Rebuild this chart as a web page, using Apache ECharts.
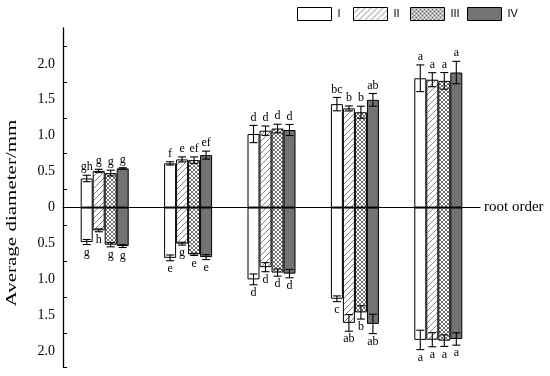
<!DOCTYPE html>
<html>
<head>
<meta charset="utf-8">
<script src="https://cdn.jsdelivr.net/npm/echarts@6/dist/echarts.min.js"></script>
<style>html,body{margin:0;padding:0;background:#fff}#c{width:550px;height:376px}</style>
</head>
<body>
<div id="c"></div>
<script>
// ---------- DATA ----------
const categories = ['1', '2', '3', '4', '5'];
const treatments = ['I', 'II', 'III', 'IV'];
const yLabelValues = [-2, -1.5, -1, -0.5, 0, 0.5, 1, 1.5, 2];
const yTickValues = [-2.22, -1.75, -1.25, -0.75, -0.25, 0.25, 0.75, 1.25, 1.75, 2.25];

const upI = [0.405, 0.615, 1.024, 1.44, 1.80];
const upErrI = [0.045, 0.023, 0.12, 0.093, 0.186];
const downI = [-0.48, -0.70, -1.00, -1.27, -1.843];
const downErrI = [0.035, 0.04, 0.075, 0.04, 0.135];
const upLblI = ['gh', 'f', 'd', 'bc', 'a'];
const downLblI = ['g', 'e', 'd', 'c', 'a'];

const upII = [0.51, 0.67, 1.07, 1.38, 1.78];
const upErrII = [0.023, 0.035, 0.065, 0.035, 0.098];
const downII = [-0.317, -0.503, -0.83, -1.606, -1.84];
const downErrII = [0.02, 0.02, 0.063, 0.116, 0.098];
const upLblII = ['g', 'e', 'd', 'b', 'a'];
const downLblII = ['h', 'g', 'd', 'ab', 'a'];

const upIII = [0.48, 0.66, 1.10, 1.327, 1.764];
const upErrIII = [0.04, 0.045, 0.06, 0.084, 0.116];
const downIII = [-0.517, -0.652, -0.905, -1.46, -1.853];
const downErrIII = [0.03, 0.015, 0.05, 0.093, 0.08];
const upLblIII = ['g', 'ef', 'd', 'b', 'a'];
const downLblIII = ['g', 'e', 'd', 'b', 'a'];

const upIV = [0.545, 0.73, 1.08, 1.50, 1.88];
const upErrIV = [0.01, 0.055, 0.077, 0.088, 0.156];
const downIV = [-0.536, -0.69, -0.92, -1.62, -1.83];
const downErrIV = [0.02, 0.035, 0.058, 0.135, 0.086];
const upLblIV = ['g', 'ef', 'd', 'ab', 'a'];
const downLblIV = ['g', 'e', 'd', 'ab', 'a'];

// ---------- STYLE ----------
const SERIF = '"Liberation Serif", "Times New Roman", serif';
const BAR_W = 12;

function pattern(kind) {
  const c = document.createElement('canvas');
  const n = kind === 'cross' ? 4 : 6;
  c.width = n; c.height = n;
  const g = c.getContext('2d');
  g.fillStyle = '#fff'; g.fillRect(0, 0, n, n);
  g.lineWidth = kind === 'cross' ? 0.7 : 0.9;
  g.strokeStyle = kind === 'cross' ? '#333' : '#777';
  g.beginPath();
  g.moveTo(-1, n + 1); g.lineTo(n + 1, -1);
  g.moveTo(-1, 1); g.lineTo(1, -1);
  g.moveTo(n - 1, n + 1); g.lineTo(n + 1, n - 1);
  if (kind === 'cross') {
    g.moveTo(-1, -1); g.lineTo(n + 1, n + 1);
    g.moveTo(n - 1, -1); g.lineTo(n + 1, 1);
    g.moveTo(-1, n - 1); g.lineTo(1, n + 1);
  }
  g.stroke();
  return { image: c, repeat: 'repeat' };
}

const fills = ['#ffffff', pattern('diag'), pattern('cross'), '#737373'];
const sets = [
  [upI, upErrI, downI, downErrI, upLblI, downLblI],
  [upII, upErrII, downII, downErrII, upLblII, downLblII],
  [upIII, upErrIII, downIII, downErrIII, upLblIII, downLblIII],
  [upIV, upErrIV, downIV, downErrIV, upLblIV, downLblIV]
];

const series = [];
treatments.forEach((t, s) => {
  const [up, upErr, down, downErr] = sets[s];
  const itemStyle = { color: fills[s], borderColor: '#000', borderWidth: 1, borderRadius: 0 };
  series.push({ name: t, type: 'bar', stack: 'st' + s, data: up, barWidth: BAR_W, barGap: '0%', itemStyle, emphasis: { disabled: true }, silent: true });
  series.push({ name: t, type: 'bar', stack: 'st' + s, data: down, barWidth: BAR_W, barGap: '0%', itemStyle, emphasis: { disabled: true }, silent: true });
});

treatments.forEach((t, s) => {
  const [up, upErr, down, downErr, upLbl, downLbl] = sets[s];
  series.push({
    name: 'err' + t,
    type: 'custom',
    z: 5,
    silent: true,
    data: categories.map((c, i) => [i, up[i]]),
    renderItem: function (params, api) {
      const i = params.dataIndex;
      const cx = api.coord([i, 0])[0] + (s - 1.5) * BAR_W;
      const cap = 4;
      const yUpT = api.coord([i, up[i] + upErr[i]])[1];
      const yUpB = api.coord([i, up[i] - upErr[i]])[1];
      const yDnT = api.coord([i, down[i] + downErr[i]])[1];
      const yDnB = api.coord([i, down[i] - downErr[i]])[1];
      const ls = { stroke: '#000', lineWidth: 1.1 };
      const line = (x1, y1, x2, y2) => ({ type: 'line', shape: { x1, y1, x2, y2 }, style: ls });
      return {
        type: 'group',
        children: [
          line(cx, yUpT, cx, yUpB), line(cx - cap, yUpT, cx + cap, yUpT), line(cx - cap, yUpB, cx + cap, yUpB),
          line(cx, yDnT, cx, yDnB), line(cx - cap, yDnT, cx + cap, yDnT), line(cx - cap, yDnB, cx + cap, yDnB),
          { type: 'text', x: cx, y: yUpT - 2, style: { text: upLbl[i], font: '12px ' + SERIF, fill: '#000', textAlign: 'center', textVerticalAlign: 'bottom', align: 'center', verticalAlign: 'bottom' } },
          { type: 'text', x: cx, y: yDnB + 2, style: { text: downLbl[i], font: '12px ' + SERIF, fill: '#000', textAlign: 'center', textVerticalAlign: 'top', align: 'center', verticalAlign: 'top' } }
        ]
      };
    }
  });
});

const legendLefts = [297, 353, 410, 467];
const legends = treatments.map((t, s) => ({
  data: [{ name: t, icon: 'rect' }], icon: 'rect', left: legendLefts[s], top: 7, padding: 0,
  itemWidth: 34, itemHeight: 13, itemGap: 0, selectedMode: false,
  itemStyle: { borderRadius: 0, borderColor: '#000', borderWidth: 1 },
  textStyle: { fontFamily: '"Liberation Sans", Arial, sans-serif', fontSize: 11, color: '#000', padding: [0, 0, 0, 1] }
}));

const chart = echarts.init(document.getElementById('c'), null, { renderer: 'canvas' });
chart.setOption({
  animation: false,
  backgroundColor: '#fff',
  legend: legends,
  grid: { left: 63, right: 70, top: 28, bottom: 9, containLabel: false },
  xAxis: {
    type: 'category', data: categories,
    axisLine: { onZero: true, lineStyle: { color: '#000', width: 1.2 } },
    axisTick: { show: false }, axisLabel: { show: false }, splitLine: { show: false },
    name: 'root order', nameLocation: 'end', nameGap: 4,
    nameTextStyle: { fontFamily: SERIF, fontSize: 15, color: '#000', verticalAlign: 'middle' }
  },
  yAxis: {
    type: 'value', min: -2.22, max: 2.5,
    axisLine: { show: true, onZero: false, lineStyle: { color: '#000', width: 1.3 } },
    axisTick: { show: true, inside: true, length: 4, customValues: yTickValues, lineStyle: { color: '#000' } },
    axisLabel: {
      customValues: yLabelValues, margin: 8, color: '#000', fontFamily: SERIF, fontSize: 14,
      formatter: v => (v === 0 ? '0' : Math.abs(v).toFixed(1))
    },
    splitLine: { show: false }
  },
  graphic: [{
    type: 'text', x: 12, y: 213, rotation: Math.PI / 2, scaleX: 1.4,
    style: { text: 'Average diameter/mm', font: '15px ' + SERIF, fill: '#000', textAlign: 'center', textVerticalAlign: 'middle', align: 'center', verticalAlign: 'middle' }
  }],
  series
});
</script>
</body>
</html>
